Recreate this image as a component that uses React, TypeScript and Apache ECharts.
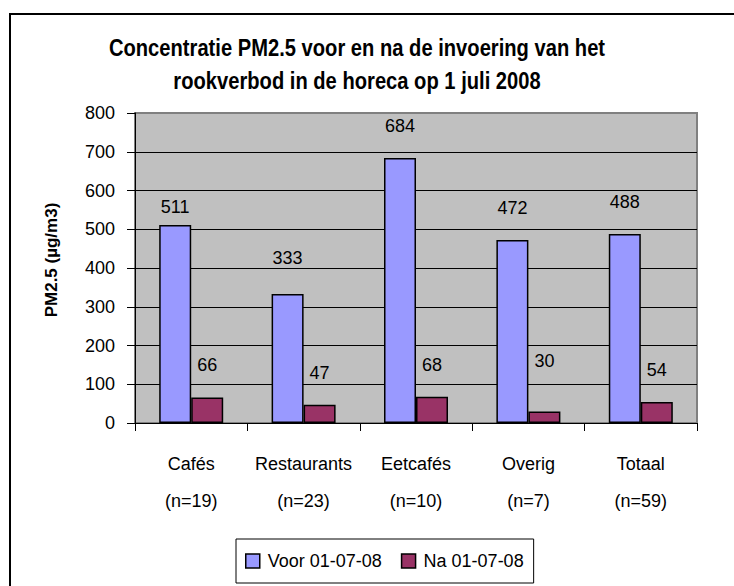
import React, { useEffect, useRef } from "react";
import * as echarts from "echarts";

const categories = ["Cafés", "Restaurants", "Eetcafés", "Overig", "Totaal"];
const sampleSizes = [19, 23, 10, 7, 59];
const voorValues = [511, 333, 684, 472, 488];
const naValues = [66, 47, 68, 30, 54];
const seriesNames = ["Voor 01-07-08", "Na 01-07-08"];
const yMin = 0;
const yMax = 800;
const yInterval = 100;
const titleLines = [
  "Concentratie PM2.5 voor en na de invoering van het",
  "rookverbod in de horeca op 1 juli 2008",
];
const yAxisTitle = "PM2.5 (µg/m3)";
// small vertical nudges (px) of individual value labels, as placed in the original
const voorLabelNudge = [14, -4, 0, 0, 0];
const naLabelNudge = [0, 0, 0, -18, 0];

const FONT = "'Liberation Sans', Arial, Helvetica, sans-serif";

export default function App() {
  const ref = useRef<HTMLDivElement>(null);

  useEffect(() => {
    if (!ref.current) return;
    const chart = echarts.init(ref.current, undefined, { renderer: "svg" });
    const splitCount = (yMax - yMin) / yInterval + 1;
    const splitColors = Array.from({ length: splitCount }, (_, i) =>
      i === splitCount - 1 ? "#808080" : "#000000"
    );
    const option: any = {
      animation: false,
      textStyle: { fontFamily: FONT },
      graphic: [
        {
          type: "rect",
          silent: true,
          z: -10,
          shape: { x: 10, y: 14, width: 900, height: 800 },
          style: { fill: "none", stroke: "#000", lineWidth: 2 },
        },
        {
          type: "text",
          x: 357,
          y: 64,
          scaleX: 0.84,
          style: {
            text: titleLines.join("\n"),
            fontSize: 24,
            fontWeight: "bold",
            fontFamily: FONT,
            fill: "#000",
            align: "center",
            verticalAlign: "middle",
            lineHeight: 33,
          },
        },
      ],
      grid: {
        left: 135,
        right: 37,
        top: 113,
        bottom: 163,
        show: true,
        backgroundColor: "#C0C0C0",
        borderColor: "#808080",
        borderWidth: 2,
        containLabel: false,
        outerBoundsMode: "none",
      },
      legend: {
        left: 236,
        top: 539,
        orient: "horizontal",
        padding: [13, 10, 13, 9],
        itemGap: 19,
        itemWidth: 14,
        itemHeight: 14,
        borderColor: "#000",
        borderWidth: 1,
        icon: "rect",
        itemStyle: { borderColor: "#000", borderWidth: 1.5 },
        textStyle: { fontSize: 18, color: "#000", fontFamily: FONT, padding: [0, 0, 0, 3] },
        data: seriesNames,
      },
      xAxis: {
        type: "category",
        data: categories.map((c, i) => `${c}\n(n=${sampleSizes[i]})`),
        axisLine: { show: true, lineStyle: { color: "#000", width: 1 } },
        axisTick: { show: true, length: 8, lineStyle: { color: "#000" } },
        axisLabel: {
          interval: 0,
          hideOverlap: false,
          fontSize: 18,
          color: "#000",
          lineHeight: 37,
          margin: 22,
          fontFamily: FONT,
        },
        splitLine: { show: false },
      },
      yAxis: {
        type: "value",
        min: yMin,
        max: yMax,
        interval: yInterval,
        name: yAxisTitle,
        nameLocation: "middle",
        nameRotate: 90,
        nameGap: 75,
        nameTextStyle: {
          fontSize: 17,
          fontWeight: "bold",
          color: "#000",
          fontFamily: FONT,
          padding: [0, 0, 0, 16],
        },
        axisLine: { show: true, lineStyle: { color: "#000", width: 1 } },
        axisTick: { show: true, length: 8, lineStyle: { color: "#000" } },
        axisLabel: { fontSize: 18, color: "#000", margin: 20, fontFamily: FONT },
        splitLine: { show: true, lineStyle: { color: splitColors, width: 1 } },
      },
      series: [
        {
          type: "bar",
          name: seriesNames[0],
          data: voorValues.map((v, i) => ({
            value: v,
            label: { offset: [0, voorLabelNudge[i]] },
          })),
          barWidth: 32,
          barGap: "0%",
          itemStyle: { color: "#9999FF", borderColor: "#000", borderWidth: 1.5 },
          label: {
            show: true,
            position: "top",
            distance: 23,
            fontSize: 18,
            color: "#000",
            fontFamily: FONT,
          },
        },
        {
          type: "bar",
          name: seriesNames[1],
          data: naValues.map((v, i) => ({
            value: v,
            label: { offset: [0, naLabelNudge[i]] },
          })),
          barWidth: 32,
          barGap: "0%",
          itemStyle: { color: "#993366", borderColor: "#000", borderWidth: 1.5 },
          label: {
            show: true,
            position: "top",
            distance: 23,
            fontSize: 18,
            color: "#000",
            fontFamily: FONT,
          },
        },
      ],
    };
    chart.setOption(option);
    return () => chart.dispose();
  }, []);

  return (
    <div
      ref={ref}
      style={{ position: "fixed", left: 0, top: 0, width: 734, height: 586, background: "#fff" }}
    />
  );
}
